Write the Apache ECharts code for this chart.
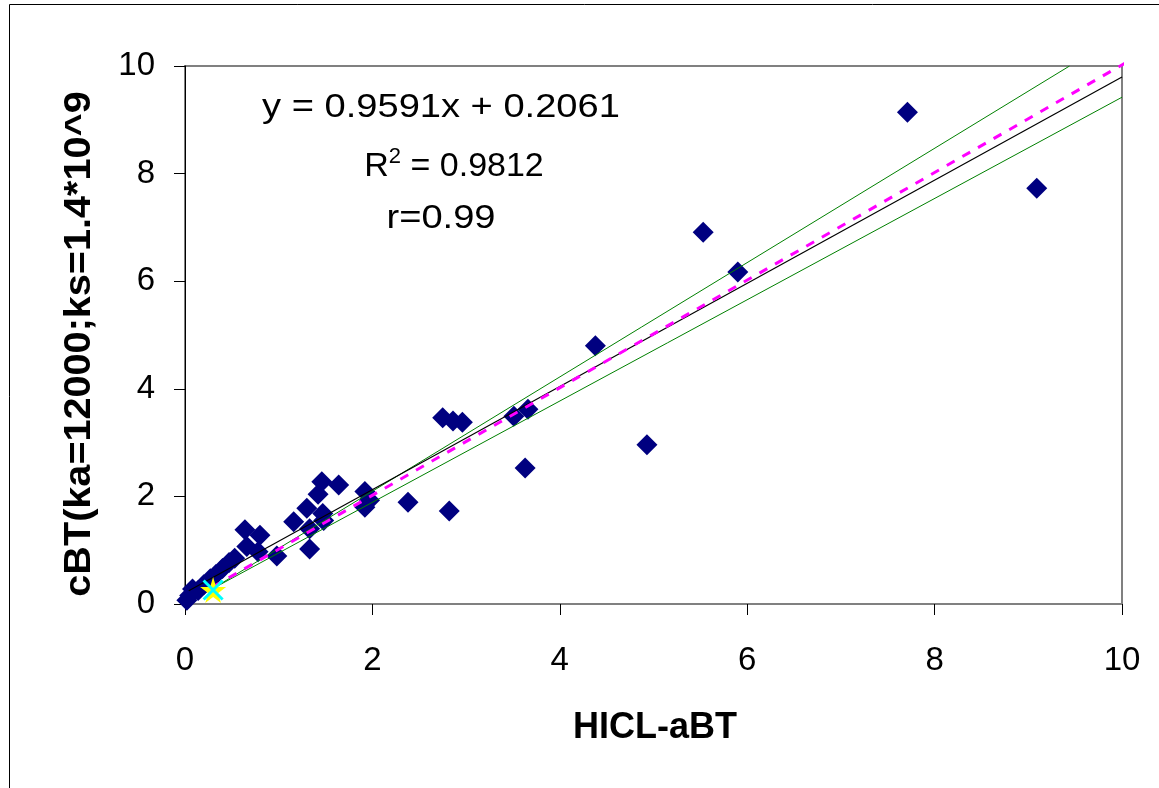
<!DOCTYPE html>
<html>
<head>
<meta charset="utf-8">
<script src="https://cdn.jsdelivr.net/npm/echarts@6/dist/echarts.min.js"></script>
<style>
  html, body { margin: 0; padding: 0; background: #fff; }
  #chart { width: 1159px; height: 788px; }
</style>
</head>
<body>
<div id="chart"></div>
<script>
// Measured pairs: HICL-aBT (x) against cBT (y)
const hiclABT = [
  0.02, 0.05, 0.08, 0.14, 0.20, 0.27, 0.33, 0.40, 0.47, 0.53,
  0.64, 0.80, 0.66, 0.78, 0.98,
  1.16, 1.30, 1.33, 1.33, 1.42, 1.46, 1.47, 1.48, 1.64,
  1.92, 1.97, 1.92, 2.38,
  2.75, 2.86, 2.96, 2.82,
  3.51, 3.66, 3.63, 4.38, 4.93, 5.53, 5.90, 7.71, 9.09
];
const cBT = [
  0.07, 0.16, 0.28, 0.25, 0.36, 0.47, 0.55, 0.66, 0.77, 0.85,
  1.38, 1.28, 1.07, 0.97, 0.89,
  1.53, 1.78, 1.40, 1.02, 2.04, 2.27, 1.68, 1.55, 2.21,
  2.09, 1.93, 1.80, 1.89,
  3.46, 3.40, 3.38, 1.73,
  3.49, 3.62, 2.53, 4.80, 2.96, 6.91, 6.17, 9.14, 7.73
];

// Linear fit stated on the chart
const fitSlope = 0.9591;
const fitIntercept = 0.2061;
const fitRange = [0.04, 10];

// Reference lines: identity and the upper / lower bounds
const identityLine = [[0.30, 0.32], [10.04, 10.06]];
const upperBound = [[0.30, 0.29], [9.44, 10.0]];
const lowerBound = [[0.30, 0.29], [10.0, 9.42]];

// Highlighted origin point
const markerPoint = [[0.30, 0.26]];

const axisTicks = [0, 2, 4, 6, 8, 10];

const scatterData = hiclABT.map((x, i) => [x, cBT[i]]);
const fitLine = fitRange.map(x => [x, fitSlope * x + fitIntercept]);

const FONT = '"Liberation Sans", Arial, Helvetica, sans-serif';
const STAR = 'path://M50,0 L61,35 L98,35 L68,57 L79,91 L50,70 L21,91 L32,57 L2,35 L39,35 Z';
const CROSS = 'path://M0,0 L10,10 M10,0 L0,10';

const chart = echarts.init(document.getElementById('chart'), null, { renderer: 'canvas' });

const axisCommon = {
  type: 'value',
  min: axisTicks[0],
  max: axisTicks[axisTicks.length - 1],
  interval: 2,
  splitLine: { show: false },
  axisTick: { show: true, inside: false, length: 11, lineStyle: { color: '#000', width: 1 } },
  axisLabel: { color: '#000', fontSize: 33, fontFamily: FONT }
};

chart.setOption({
  animation: false,
  backgroundColor: '#fff',
  grid: {
    left: 185, right: 37, top: 66, bottom: 184,
    show: true, borderColor: '#808080', borderWidth: 2, backgroundColor: '#fff'
  },
  xAxis: Object.assign({}, axisCommon, {
    axisLine: { show: true, onZero: false, lineStyle: { color: '#808080', width: 2 } },
    axisLabel: Object.assign({}, axisCommon.axisLabel, { margin: 40 })
  }),
  yAxis: Object.assign({}, axisCommon, {
    axisLine: { show: true, onZero: false, lineStyle: { color: '#000', width: 1 } },
    axisLabel: Object.assign({}, axisCommon.axisLabel, { margin: 30 })
  }),
  series: [
    {
      name: 'cBT',
      type: 'scatter',
      data: scatterData,
      symbol: 'diamond',
      symbolSize: 21,
      itemStyle: { color: '#000080', opacity: 1 },
      z: 2
    },
    {
      name: 'upper',
      type: 'line',
      data: upperBound,
      symbol: 'none',
      lineStyle: { color: '#008000', width: 1 },
      z: 3
    },
    {
      name: 'lower',
      type: 'line',
      data: lowerBound,
      symbol: 'none',
      lineStyle: { color: '#008000', width: 1 },
      z: 3
    },
    {
      name: 'fit',
      type: 'line',
      data: fitLine,
      symbol: 'none',
      lineStyle: { color: '#000', width: 1.2 },
      z: 4
    },
    {
      name: 'identity',
      type: 'line',
      data: identityLine,
      symbol: 'none',
      clip: false,
      lineStyle: { color: '#FF00FF', width: 3, type: [9, 9] },
      z: 4
    },
    {
      name: 'star',
      type: 'scatter',
      data: markerPoint,
      symbol: STAR,
      symbolSize: 26,
      itemStyle: { color: '#FFFF00', opacity: 1 },
      z: 5
    },
    {
      name: 'cross',
      type: 'scatter',
      data: markerPoint,
      symbol: CROSS,
      symbolSize: 19,
      itemStyle: { color: 'none', borderColor: '#00FFFF', borderWidth: 3, opacity: 1 },
      z: 6
    }
  ],
  graphic: [
    {
      type: 'rect',
      shape: { x: 9.5, y: 4.5, width: 1300, height: 1000 },
      style: { fill: 'none', stroke: '#000', lineWidth: 1 },
      silent: true
    },
    {
      type: 'text',
      x: 441, y: 108,
      scaleX: 1.12,
      style: {
        text: 'y = 0.9591x + 0.2061',
        font: '34px ' + FONT,
        fill: '#000', align: 'center', verticalAlign: 'middle'
      },
      z: 10
    },
    {
      type: 'text',
      x: 454, y: 164,
      style: {
        text: '{b|R}{s|2}{b| = 0.9812}',
        fill: '#000', align: 'center', verticalAlign: 'middle',
        rich: {
          b: { fontSize: 34, fontFamily: FONT, lineHeight: 40, fill: '#000', verticalAlign: 'bottom' },
          s: { fontSize: 22, fontFamily: FONT, lineHeight: 40, fill: '#000', verticalAlign: 'top', padding: [2, 0, 0, 0] }
        }
      },
      z: 10
    },
    {
      type: 'text',
      x: 441, y: 219,
      scaleX: 1.12,
      style: {
        text: 'r=0.99',
        font: '34px ' + FONT,
        fill: '#000', align: 'center', verticalAlign: 'middle'
      },
      z: 10
    },
    {
      type: 'text',
      x: 655, y: 728,
      style: {
        text: 'HICL-aBT',
        font: 'bold 36px ' + FONT,
        fill: '#000', align: 'center', verticalAlign: 'middle'
      },
      z: 10
    },
    {
      type: 'text',
      x: 80, y: 344,
      rotation: Math.PI / 2,
      scaleX: 1.1,
      style: {
        text: 'cBT(ka=12000;ks=1.4*10^9',
        font: 'bold 36px ' + FONT,
        fill: '#000', align: 'center', verticalAlign: 'middle'
      },
      z: 10
    }
  ]
});
</script>
</body>
</html>
